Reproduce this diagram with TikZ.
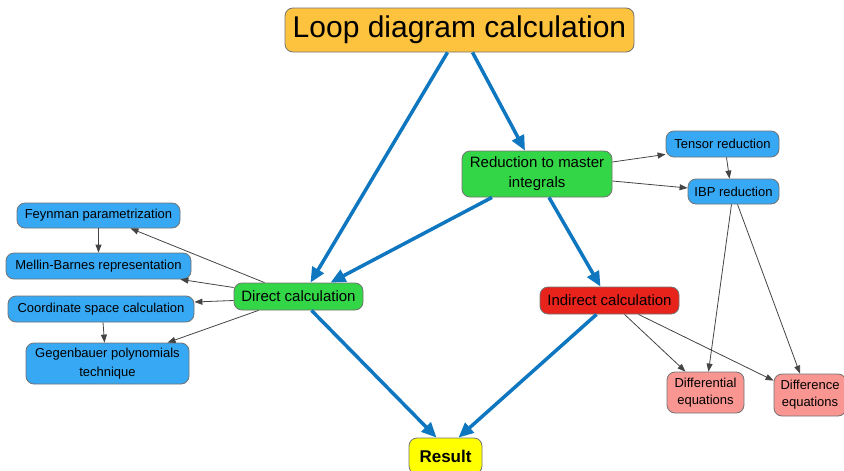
\documentclass[tikz,border=0pt]{standalone}
\usepackage{fontspec}
\setmainfont{Liberation Sans}
\usepackage{xcolor}
\usetikzlibrary{arrows.meta,calc}

\definecolor{loopc}{HTML}{FDC23E}
\definecolor{greenc}{HTML}{33D646}
\definecolor{bluec}{HTML}{36A8F4}
\definecolor{redc}{HTML}{E8231C}
\definecolor{pinkc}{HTML}{F99691}
\definecolor{resc}{HTML}{FFFF00}
\definecolor{flowc}{HTML}{0F76C0}
\definecolor{edgec}{HTML}{444444}

\begin{document}
\begin{tikzpicture}[x=1pt, y=-1pt,
    box/.style={draw=black!55, line width=0.8pt, rounded corners=8pt, inner sep=0pt, align=center, text=black},
    flow/.style={flowc, line width=3.5pt, -{Triangle[length=15pt,width=13pt]}},
    link/.style={edgec, line width=0.8pt, -{Triangle[length=8pt,width=6pt]}}]
    \clip (0,0) rectangle (844,471);

    \node[box, fill=loopc, minimum width=349pt, minimum height=44pt, font=\fontsize{30}{32}\selectfont] (loop) at (459.5,30) {Loop diagram calculation};

    \node[box, fill=greenc, minimum width=150pt, minimum height=46pt, font=\fontsize{15}{20}\selectfont] (red) at (537,174) {Reduction to master\\integrals};
    \node[box, fill=greenc, minimum width=129pt, minimum height=27pt, font=\fontsize{15}{18}\selectfont] (dir) at (298.5,296.5) {Direct calculation};
    \node[box, fill=redc, minimum width=139pt, minimum height=27pt, font=\fontsize{15}{18}\selectfont] (ind) at (609.5,300.5) {Indirect calculation};

    \node[box, fill=bluec, minimum width=113pt, minimum height=26pt, font=\fontsize{13}{16}\selectfont] (tens) at (722.5,144) {Tensor reduction};
    \node[box, fill=bluec, minimum width=91pt, minimum height=25pt, font=\fontsize{13}{16}\selectfont] (ibp) at (733.5,191.5) {IBP reduction};

    \node[box, fill=bluec, minimum width=163pt, minimum height=25pt, font=\fontsize{13}{16}\selectfont] (feyn) at (98.5,215.5) {Feynman parametrization};
    \node[box, fill=bluec, minimum width=185pt, minimum height=26pt, font=\fontsize{13}{16}\selectfont] (mell) at (98.5,266) {Mellin-Barnes representation};
    \node[box, fill=bluec, minimum width=186pt, minimum height=26pt, font=\fontsize{13}{16}\selectfont] (coord) at (101,309) {Coordinate space calculation};
    \node[box, fill=bluec, minimum width=163pt, minimum height=41pt, font=\fontsize{13}{19}\selectfont] (geg) at (107.5,363.5) {Gegenbauer polynomials\\technique};

    \node[box, fill=pinkc, minimum width=77pt, minimum height=41pt, font=\fontsize{13}{17}\selectfont] (diff) at (705.5,392.5) {Differential\\equations};
    \node[box, fill=pinkc, minimum width=72pt, minimum height=42pt, font=\fontsize{13}{17}\selectfont] (dfce) at (810,395) {Difference\\equations};

    \node[box, fill=resc, minimum width=73pt, minimum height=36pt, font=\fontsize{17}{20}\selectfont\bfseries] (res) at (445.5,456) {Result};

    % thick flow
    \draw[flow] ([xshift=-12pt]loop.south) -- ([xshift=12pt]dir.north);
    \draw[flow] ([xshift=13pt]loop.south) -- ([xshift=-12pt]red.north);
    \draw[flow] ([xshift=-45pt]red.south) -- ([xshift=32pt]dir.north);
    \draw[flow] ([xshift=12pt]red.south) -- ([xshift=-9pt]ind.north);
    \draw[flow] ([xshift=13pt]dir.south) -- ([xshift=-9pt]res.north);
    \draw[flow] ([xshift=-13pt]ind.south) -- ([xshift=13pt]res.north);

    % thin links
    \draw[link] ([yshift=12pt]red.east) -- ([yshift=3pt]tens.south west);
    \draw[link] ([yshift=-7pt]red.east) -- ([yshift=3.5pt]ibp.west);
    \draw[link] ([xshift=4pt]tens.south) -- ([xshift=-4pt]ibp.north);
    \draw[link] ([xshift=-2pt]ibp.south) -- ([xshift=3pt]diff.north);
    \draw[link] ([xshift=4pt]ibp.south) -- ([xshift=-10pt]dfce.north);
    \draw[link] ([xshift=15pt]ind.south) -- ([xshift=-20pt]diff.north);
    \draw[link] ([xshift=29pt]ind.south) -- ([yshift=-7pt]dfce.north west);

    \draw[link] ([xshift=-34pt]dir.north) -- ([xshift=32pt]feyn.south);
    \draw[link] ([yshift=9pt]dir.west) -- ([xshift=-11pt]mell.south east);
    \draw[link] ([yshift=-4pt]dir.west) -- ([yshift=7pt]coord.east);
    \draw[link] ([xshift=-40pt]dir.south) -- ([xshift=60pt]geg.north);
    \draw[link] (feyn.south) -- (mell.north);
    \draw[link] ([xshift=2pt]coord.south) -- ([xshift=-3pt]geg.north);
\end{tikzpicture}
\end{document}
